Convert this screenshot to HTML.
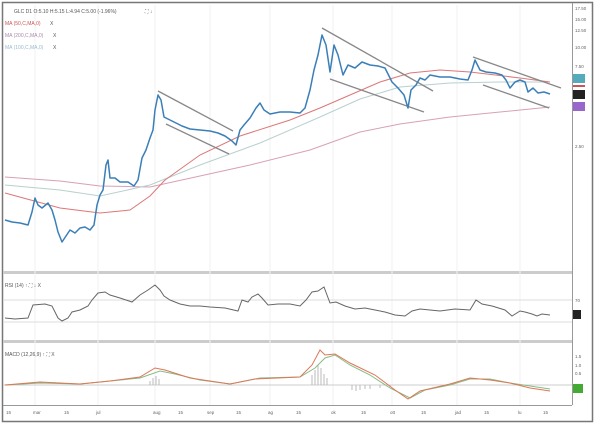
<!DOCTYPE html>
<html><head><meta charset="utf-8"><style>
body{margin:0;background:#fff;width:600px;height:428px;overflow:hidden;font-family:"Liberation Sans",sans-serif}
</style></head><body>
<svg width="600" height="428" viewBox="0 0 600 428" xmlns="http://www.w3.org/2000/svg" font-family="Liberation Sans, sans-serif">
<rect x="0" y="0" width="600" height="428" fill="#fff"/>
<rect x="2.5" y="2.5" width="590" height="419" fill="none" stroke="#777" stroke-width="1.5"/>
<!-- separators -->
<rect x="3" y="271" width="570" height="3" fill="#ccc"/>
<rect x="3" y="340" width="570" height="3" fill="#ccc"/>
<line x1="572.5" y1="3" x2="572.5" y2="405" stroke="#999"/>
<line x1="3" y1="405.5" x2="572" y2="405.5" stroke="#999"/>
<!-- vertical faint grid -->
<g stroke="#f2f2f2">
<line x1="35" y1="5" x2="35" y2="405"/><line x1="98" y1="5" x2="98" y2="405"/><line x1="155" y1="5" x2="155" y2="405"/><line x1="210" y1="5" x2="210" y2="405"/><line x1="270" y1="5" x2="270" y2="405"/><line x1="333" y1="5" x2="333" y2="405"/><line x1="392" y1="5" x2="392" y2="405"/><line x1="457" y1="5" x2="457" y2="405"/><line x1="520" y1="5" x2="520" y2="405"/>
</g>
<!-- legend -->
<g font-size="5" fill="#555">
<text x="14" y="13">GLC D1 O:5.10 H:5.15 L:4.94 C:5.00 (-1.96%)</text>
<text x="145" y="13">⛶ ↓</text>
<text x="5" y="25" fill="#c55">MA (50,C,MA,0)</text><text x="50" y="25">X</text>
<text x="5" y="37" fill="#a8a">MA (200,C,MA,0)</text><text x="53" y="37">X</text>
<text x="5" y="49" fill="#9bc">MA (100,C,MA,0)</text><text x="53" y="49">X</text>
</g>
<!-- right axis -->
<g font-size="4.5" fill="#666">
<text x="575" y="10">17.50</text><text x="575" y="21">15.00</text><text x="575" y="32">12.50</text><text x="575" y="49">10.00</text><text x="575" y="68">7.50</text><text x="575" y="148">2.50</text>
<text x="575" y="302">70</text>
<text x="575" y="358">1.5</text><text x="575" y="367">1.0</text><text x="575" y="375">0.5</text>
</g>
<rect x="573" y="74" width="12" height="9" fill="#5ab"/>
<rect x="573" y="85" width="12" height="2" fill="#c55"/>
<rect x="573" y="90" width="12" height="9" fill="#222"/>
<rect x="573" y="102" width="12" height="9" fill="#96c"/>
<rect x="573" y="310" width="8" height="9" fill="#222"/>
<rect x="573" y="384" width="10" height="9" fill="#4a3"/>
<!-- MAs -->
<polyline fill="none" stroke="#d8a0b8" stroke-width="1" points="5,177 60,181 100,186 150,187 200,176 250,165 310,150 360,132 400,124 450,117 500,112 550,107"/>
<polyline fill="none" stroke="#b8d0d0" stroke-width="1" points="5,185 60,190 100,196 150,185 200,165 260,143 320,117 360,99 400,87 450,83 500,82 550,82"/>
<polyline fill="none" stroke="#d77" stroke-width="1" points="5,193 60,208 100,213 130,210 150,196 165,180 200,155 240,136 290,120 320,108 350,95 380,82 410,73 440,70 470,72 520,78 550,82"/>
<!-- trend lines -->
<g stroke="#888" stroke-width="1.3">
<line x1="158" y1="91" x2="233" y2="131"/><line x1="166" y1="124" x2="229" y2="154"/>
<line x1="322" y1="28" x2="433" y2="91"/><line x1="330" y1="79" x2="424" y2="112"/>
<line x1="473" y1="57" x2="561" y2="88"/><line x1="483" y1="85" x2="549" y2="108"/>
</g>
<!-- price -->
<polyline fill="none" stroke="#3a7fb8" stroke-width="1.5" stroke-linejoin="round" points="5,220 12,222 20,223 28,225 32,212 35,198 38,205 42,208 48,203 52,210 55,220 58,232 62,242 66,236 70,230 75,233 80,228 85,227 90,230 94,225 97,205 100,195 103,190 106,165 108,160 110,178 115,178 120,182 128,182 134,186 138,180 142,158 146,150 150,138 153,130 155,110 158,95 161,100 164,117 170,120 176,123 182,126 190,129 200,130 210,131 218,133 225,136 232,141 236,145 240,130 244,125 250,118 256,108 260,103 264,110 270,114 280,112 290,112 300,113 305,108 310,90 314,70 318,55 322,35 326,45 330,72 334,45 338,55 343,75 348,65 355,68 362,62 370,65 378,66 385,68 392,82 398,88 404,95 408,108 411,90 416,85 420,78 425,80 430,75 440,77 450,77 460,79 468,80 472,70 475,60 480,70 486,72 495,73 502,75 506,80 510,88 515,82 520,80 525,82 528,92 533,88 538,93 544,92 550,94"/>
<!-- RSI -->
<text x="5" y="287" font-size="5" fill="#555">RSI (14)  ↑  ⛶  ↓  X</text>
<line x1="3" y1="300" x2="572" y2="300" stroke="#ddd"/>
<line x1="3" y1="322" x2="572" y2="322" stroke="#ddd"/>
<polyline fill="none" stroke="#666" stroke-width="1" points="5,318 15,319 28,318 33,305 45,304 52,306 58,318 62,321 68,318 72,312 80,310 88,306 92,300 98,293 105,292 110,295 120,298 132,302 140,295 148,290 155,285 160,290 164,296 170,300 180,304 190,306 200,306 210,307 225,308 238,311 242,300 248,302 252,297 258,294 262,298 268,305 278,304 290,304 300,306 306,300 312,292 318,291 324,287 330,303 336,302 345,306 355,309 365,308 375,310 385,312 395,315 405,316 412,311 420,309 430,310 440,311 455,309 470,310 476,300 482,304 492,306 505,310 512,316 520,311 525,312 532,314 537,316 542,314 550,315"/>
<!-- MACD -->
<text x="5" y="356" font-size="5" fill="#555">MACD (12,26,9)  ↑  ⛶  X</text>
<line x1="3" y1="385" x2="572" y2="385" stroke="#ccc"/>
<g stroke="#bbb" stroke-width="1">
<line x1="150" y1="385" x2="150" y2="381"/><line x1="153" y1="385" x2="153" y2="378"/><line x1="156" y1="385" x2="156" y2="376"/><line x1="159" y1="385" x2="159" y2="379"/>
<line x1="312" y1="385" x2="312" y2="375"/><line x1="315" y1="385" x2="315" y2="370"/><line x1="318" y1="385" x2="318" y2="365"/><line x1="321" y1="385" x2="321" y2="368"/><line x1="324" y1="385" x2="324" y2="374"/><line x1="327" y1="385" x2="327" y2="378"/>
<line x1="352" y1="385" x2="352" y2="390"/><line x1="356" y1="385" x2="356" y2="391"/><line x1="360" y1="385" x2="360" y2="390"/><line x1="365" y1="385" x2="365" y2="389"/><line x1="370" y1="385" x2="370" y2="389"/><line x1="380" y1="385" x2="380" y2="388"/><line x1="390" y1="385" x2="390" y2="387"/>
</g>
<polyline fill="none" stroke="#8b8" stroke-width="1" points="5,385 40,383 80,384 110,381 140,378 160,371 175,374 200,380 230,384 260,378 300,377 315,368 325,358 335,355 350,365 370,375 390,388 410,398 425,390 450,385 470,379 490,379 510,383 530,386 550,389"/>
<polyline fill="none" stroke="#d75" stroke-width="1" points="5,385 40,382 80,384 110,381 140,377 155,368 165,370 190,378 230,384 255,379 300,377 312,365 320,350 325,355 335,354 350,363 375,375 395,390 408,399 420,391 450,384 470,378 490,380 510,383 530,388 550,391"/>
<!-- x labels -->
<g font-size="4.5" fill="#666">
<text x="6" y="414">15</text><text x="33" y="414">mar</text><text x="64" y="414">15</text><text x="96" y="414">jul</text><text x="153" y="414">aug</text><text x="178" y="414">15</text><text x="207" y="414">sep</text><text x="236" y="414">15</text><text x="268" y="414">ag</text><text x="296" y="414">15</text><text x="331" y="414">ok</text><text x="361" y="414">15</text><text x="390" y="414">ott</text><text x="421" y="414">15</text><text x="455" y="414">jad</text><text x="484" y="414">15</text><text x="518" y="414">lu</text><text x="543" y="414">15</text>
</g>
</svg>
</body></html>
